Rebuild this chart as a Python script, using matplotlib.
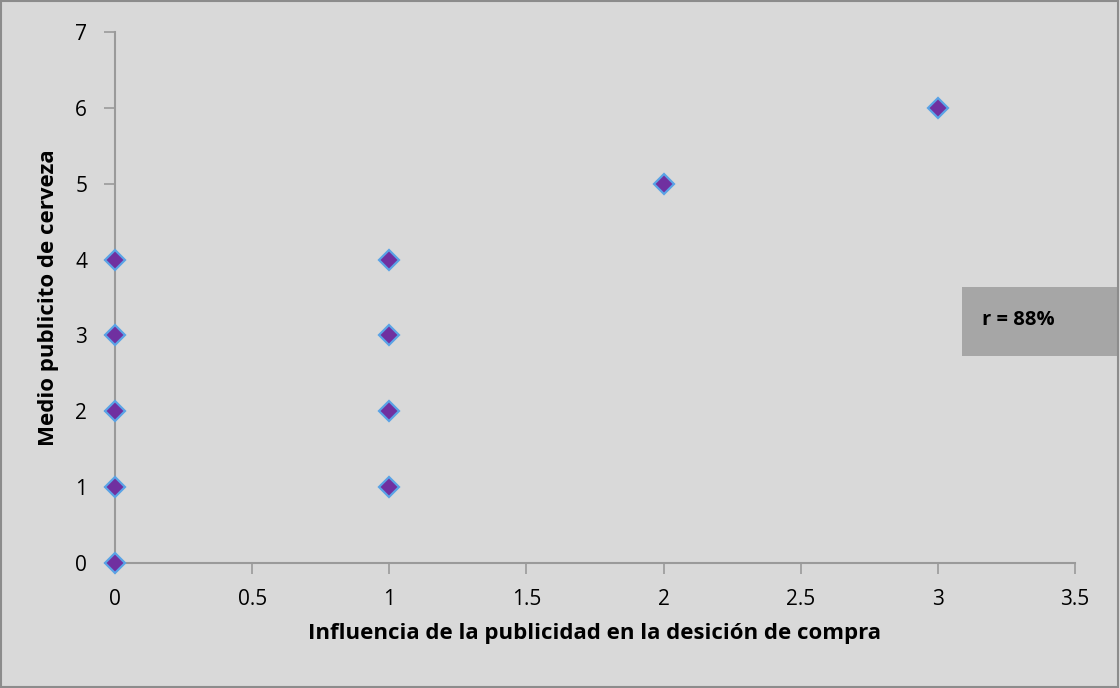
import matplotlib
matplotlib.use("Agg")
import matplotlib.pyplot as plt
from matplotlib.patches import Rectangle

# data
influencia = [0, 0, 0, 0, 0, 1, 1, 1, 1, 2, 3]
medio = [0, 1, 2, 3, 4, 1, 2, 3, 4, 5, 6]
x_ticks = [0, 0.5, 1, 1.5, 2, 2.5, 3, 3.5]
x_labels = ["0", "0.5", "1", "1.5", "2", "2.5", "3", "3.5"]
y_ticks = [0, 1, 2, 3, 4, 5, 6, 7]

plt.rcParams["font.family"] = ["Open Sans", "DejaVu Sans"]

bg = "#d9d9d9"
axis_col = "#9a9a9a"

fig = plt.figure(figsize=(11.2, 6.88), dpi=100, facecolor=bg)
ax = fig.add_axes([0.1027, 0.1817, 0.8571, 0.7718])
ax.set_facecolor(bg)

ax.plot(influencia, medio, linestyle="none", marker="D", markersize=10.5,
        markerfacecolor="#7030a0", markeredgecolor="#5aa3e6",
        markeredgewidth=1.6, clip_on=False, zorder=3)

ax.set_xlim(0, 3.5)
ax.set_ylim(0, 7)
ax.set_xticks(x_ticks)
ax.set_xticklabels(x_labels)
ax.set_yticks(y_ticks)

for side in ["top", "right"]:
    ax.spines[side].set_visible(False)
for side in ["left", "bottom"]:
    ax.spines[side].set_color(axis_col)
    ax.spines[side].set_linewidth(1.5)

ax.tick_params(axis="both", direction="out", length=8, width=1.2,
               color=axis_col, labelsize=15, labelcolor="black")
ax.tick_params(axis="x", pad=11)
ax.tick_params(axis="y", pad=12)

ax.set_xlabel("Influencia de la publicidad en la desición de compra",
              fontsize=16, fontweight="bold", labelpad=9)
ax.set_ylabel("Medio publicito de cerveza", fontsize=16,
              fontweight="bold", labelpad=12)

# grey box with the correlation
fig.patches.append(Rectangle((962 / 1120, 1 - 356 / 688), 156 / 1120, 69 / 688,
                             transform=fig.transFigure, facecolor="#a6a6a6",
                             edgecolor="none", zorder=1))
fig.text(982 / 1120, 1 - 320 / 688, "r = 88%", fontsize=14.5,
         fontweight="bold", va="center", ha="left")

# outer frame
fig.patches.append(Rectangle((0.001, 0.002), 0.997, 0.996,
                             transform=fig.transFigure, facecolor="none",
                             edgecolor="#8c8c8c", linewidth=1.5))

fig.savefig("out.png", dpi=100, facecolor=bg)
